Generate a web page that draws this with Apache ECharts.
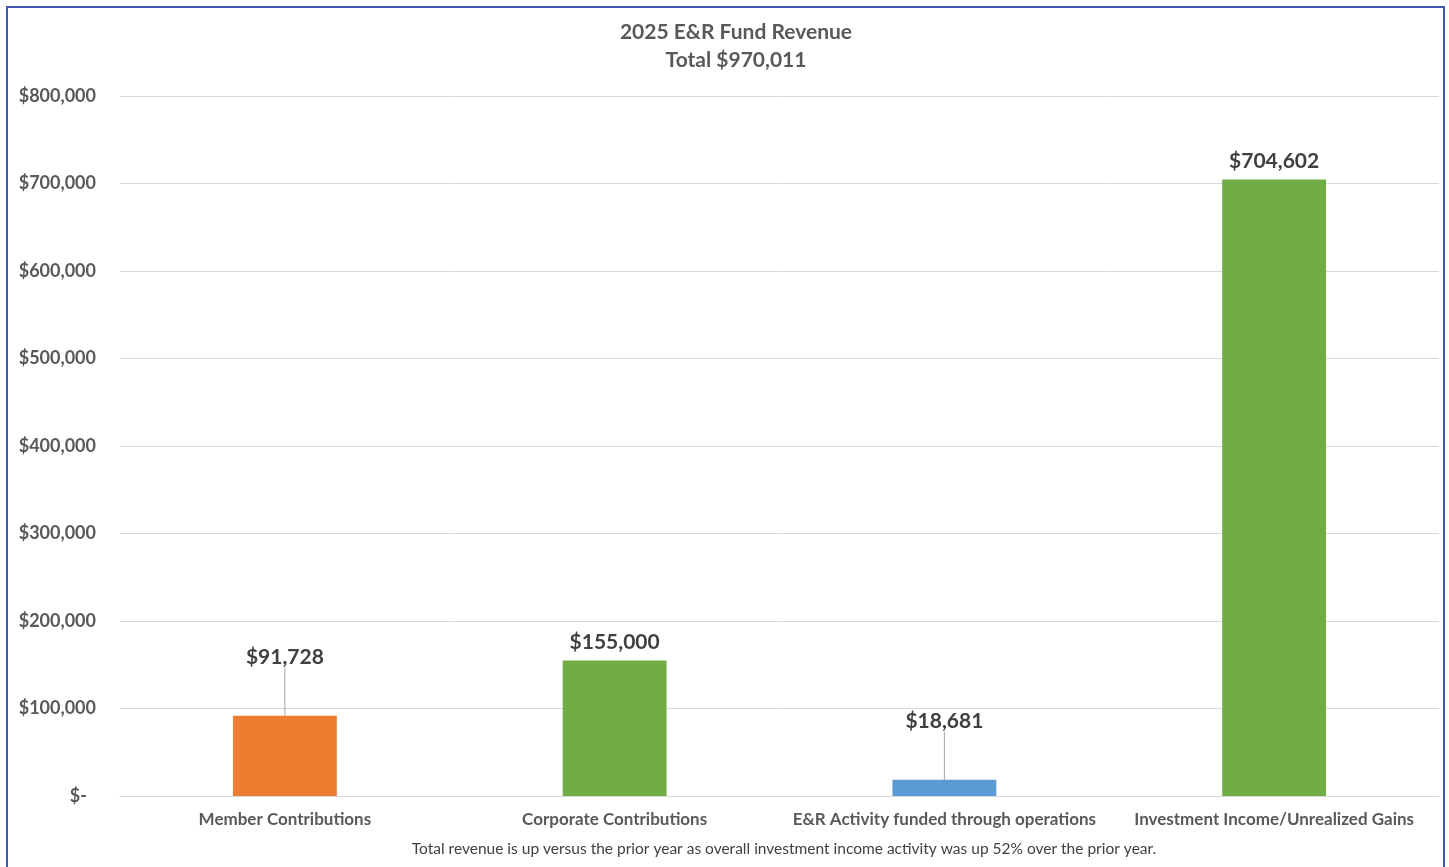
<!DOCTYPE html>
<html><head><meta charset="utf-8">
<script src="https://cdn.jsdelivr.net/npm/echarts@6/dist/echarts.min.js"></script>
<style>
html,body{margin:0;padding:0;background:#fff;}
#frame{position:absolute;left:6px;top:6px;width:1439px;height:870px;border:2px solid #4357B0;box-sizing:border-box;}
#c{position:absolute;left:0;top:0;width:1449px;height:867px;}
</style></head>
<body>
<div id="frame"></div>
<div id="c"></div>
<script>
const categories = ['Member Contributions','Corporate Contributions','E&R Activity funded through operations','Investment Income/Unrealized Gains'];
const values = [91728, 155000, 18681, 704602];
const barColors = ['#ED7D31','#70AD47','#5B9BD5','#70AD47'];
const labelLift = [40, 0, 40, 0];
const titleText = '2025 E&R Fund Revenue\nTotal $970,011';
const footnote = 'Total revenue is up versus the prior year as overall investment income activity was up 52% over the prior year.';

const fmt = v => v === 0 ? '$-' : '$' + v.toLocaleString('en-US');
const FONT = 'Lato, "Open Sans", sans-serif';

const chart = echarts.init(document.getElementById('c'));
chart.setOption({
  animation: false,
  title: [{
    text: titleText, left: 731, top: 13, textAlign: 'center',
    textStyle: {fontFamily: FONT, fontSize: 21, fontWeight: 'bold', color: '#595959', lineHeight: 28}
  },{
    text: footnote, left: 779, top: 836, textAlign: 'center',
    textStyle: {fontFamily: FONT, fontSize: 15.5, fontWeight: 'normal', color: '#404040'}
  }],
  grid: {left: 120, right: 10, top: 96, bottom: 71, containLabel: false, outerBoundsMode: 'none'},
  xAxis: {
    type: 'category', data: categories,
    axisLine: {lineStyle: {color: '#D9D9D9'}}, axisTick: {show: false},
    axisLabel: {fontFamily: FONT, fontSize: 17, fontWeight: 'bold', color: '#595959', margin: 15, interval: 0}
  },
  yAxis: {
    type: 'value', min: 0, max: 800000, interval: 100000,
    axisLine: {show: false}, axisTick: {show: false},
    splitLine: {lineStyle: {color: '#D9D9D9'}},
    axisLabel: {fontFamily: FONT, fontSize: 18, fontWeight: 'bold', color: '#595959', margin: 24,
      formatter: v => v === 0 ? '{d|$-}' : fmt(v),
      rich: {d: {fontFamily: FONT, fontSize: 18, fontWeight: 'bold', color: '#595959', padding: [0, 9, 0, 0]}}}
  },
  series: [{
    type: 'bar', barWidth: '31.5%',
    data: values.map((v,i) => ({value: v, itemStyle: {color: barColors[i]}, labelLine: {show: labelLift[i] > 0}})),
    label: {show: true, position: 'top', distance: 8, formatter: p => fmt(p.value),
      fontFamily: FONT, fontSize: 21, fontWeight: 'bold', color: '#404040'},
    labelLayout: p => ({dy: -labelLift[p.dataIndex]}),
    labelLine: {show: true, lineStyle: {color: '#A6A6A6', width: 1}}
  }]
});
</script>
</body></html>
